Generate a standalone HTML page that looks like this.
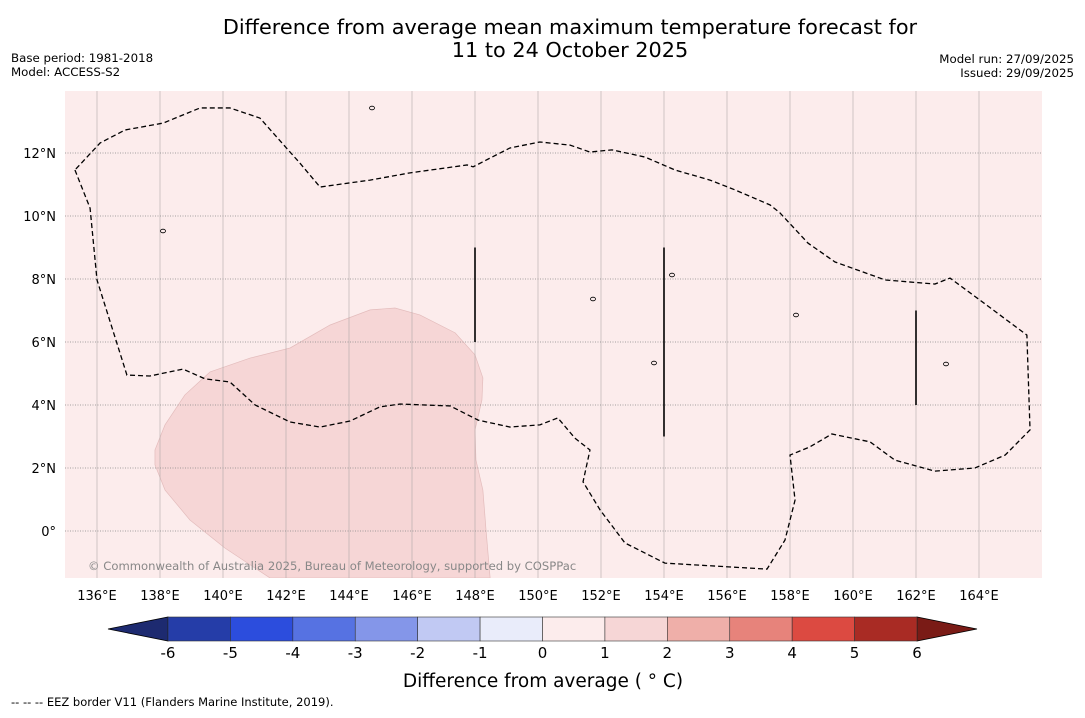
<!DOCTYPE html>
<html><head><meta charset="utf-8"><style>
body{margin:0;background:#fff;width:1085px;height:713px;overflow:hidden;font-family:"Liberation Sans","DejaVu Sans",sans-serif;}
svg text{font-family:"DejaVu Sans","Liberation Sans",sans-serif;}
</style></head><body>
<svg id="c" width="1085" height="713"></svg>
<script>
const levels=[-6,-5,-4,-3,-2,-1,0,1,2,3,4,5,6];
const binColors=["#253da8","#2c4ddd","#5672e2","#8496e9","#c1c9f3","#e9ecfa","#fcecec","#f6d6d6","#efafa9","#e7837b","#dc4a41","#a92b24"];
const extLow="#1d2a70", extHigh="#7a1b16";
const lonTicks=[136,138,140,142,144,146,148,150,152,154,156,158,160,162,164];
const latTicks=[0,2,4,6,8,10,12];
const eezLon=[135.30,135.78,136.0,136.95,137.68,138.73,139.43,140.22,141.02,142.13,143.08,144.03,144.98,145.62,147.21,148.10,149.11,150.06,150.63,151.17,151.65,151.43,151.97,152.76,154.03,157.27,157.84,158.16,158.0,158.63,159.33,160.54,161.33,162.60,163.87,164.83,165.62,165.52,164.03,163.08,162.60,161.02,159.43,158.57,157.68,157.37,156.25,155.46,154.35,153.40,152.35,151.65,151.02,150.06,149.11,148.48,147.94,147.75,145.94,144.67,143.08,142.44,141.17,140.22,139.27,138.10,136.89,136.10,135.30];
const eezLat=[11.46,10.25,7.97,4.95,4.92,5.14,4.83,4.73,4.0,3.46,3.30,3.49,3.94,4.03,3.97,3.52,3.30,3.37,3.59,2.95,2.57,1.56,0.67,-0.38,-1.02,-1.21,-0.29,0.98,2.41,2.67,3.08,2.83,2.25,1.90,2.0,2.41,3.21,6.22,7.33,8.03,7.84,7.97,8.54,9.14,10.10,10.35,10.83,11.14,11.46,11.87,12.10,12.03,12.25,12.35,12.16,11.84,11.56,11.62,11.37,11.14,10.92,11.68,13.11,13.43,13.43,12.95,12.73,12.32,11.46];
const blobLon=[137.84,138.16,138.79,139.59,140.86,142.13,143.40,144.67,145.46,146.25,147.37,148.0,148.25,148.22,148.0,148.03,148.25,148.35,148.48,141.49,140.06,138.95,138.16,137.84];
const blobLat=[2.57,3.37,4.32,5.05,5.49,5.81,6.54,7.02,7.08,6.86,6.29,5.59,4.86,4.16,3.21,2.25,1.30,0.03,-1.49,-1.49,-0.54,0.35,1.30,2.10];
const blobValue=1.5, bgValue=0.5;
const segLon=[148,154,162], segLatA=[9,9,7], segLatB=[6,3,4];

const NS="http://www.w3.org/2000/svg", svg=document.getElementById('c');
function el(t,a,p){const e=document.createElementNS(NS,t);for(const k in a)e.setAttribute(k,a[k]);(p||svg).appendChild(e);return e;}
const X=lon=>97+(lon-136)*31.5, Y=lat=>531-lat*31.5;
const colorFor=v=>{for(let i=0;i<levels.length-1;i++)if(v>=levels[i]&&v<levels[i+1])return binColors[i];return v<levels[0]?extLow:extHigh;};
const CX=v=>168+(v-levels[0])*(749/(levels.length-1));

let t;
t=el('text',{x:570,y:34,'text-anchor':'middle','font-size':20.8});t.textContent='Difference from average mean maximum temperature forecast for';

t=el('text',{x:570,y:57,'text-anchor':'middle','font-size':20.8});t.textContent='11 to 24 October 2025';

[['Base period: 1981-2018',11,62,'start','base-period'],['Model: ACCESS-S2',11,76,'start','model-name'],['Model run: 27/09/2025',1074,63,'end','model-run'],['Issued: 29/09/2025',1074,77,'end','issued-date']].forEach(d=>{
 t=el('text',{x:d[1],y:d[2],'text-anchor':d[3],'font-size':11.8});t.textContent=d[0];
 });

const map=el('g',{});
el('defs',{}).innerHTML='<clipPath id="cp"><rect x="65" y="91" width="977" height="487"/></clipPath>';
map.setAttribute('clip-path','url(#cp)');
let r=el('rect',{x:65,y:91,width:977,height:487,fill:colorFor(bgValue)},map);

let b=el('polygon',{points:blobLon.map((l,i)=>X(l)+','+Y(blobLat[i])).join(' '),fill:colorFor(blobValue),stroke:'#e3bcbc','stroke-width':0.7},map);

lonTicks.forEach(l=>{const g=el('line',{x1:X(l),x2:X(l),y1:91,y2:578,stroke:'#b0a8a8','stroke-width':0.6},map);
 });
latTicks.forEach(l=>{const g=el('line',{x1:65,x2:1042,y1:Y(l),y2:Y(l),stroke:'#888','stroke-width':0.7,'stroke-dasharray':'1,1.5'},map);
 });
let ez=el('polyline',{points:eezLon.map((l,i)=>X(l)+','+Y(eezLat[i])).join(' '),fill:'none',stroke:'#000','stroke-width':1.3,'stroke-dasharray':'5,3'},map);

segLon.forEach((l,i)=>{const s=el('line',{x1:X(l),x2:X(l),y1:Y(segLatA[i]),y2:Y(segLatB[i]),stroke:'#000','stroke-width':1.6},map);
 });
[[372,108],[163,231],[593,299],[796,315],[946,364],[672,275],[654,363]].forEach(p=>{const s=el('ellipse',{cx:p[0],cy:p[1],rx:2.5,ry:1.8,fill:'none',stroke:'#000','stroke-width':0.8},map);
 });
t=el('text',{x:88,y:570,'font-size':11.6,fill:'#888'},map);t.textContent='© Commonwealth of Australia 2025, Bureau of Meteorology, supported by COSPPac';


lonTicks.forEach(l=>{t=el('text',{x:X(l),y:600,'text-anchor':'middle','font-size':13});t.textContent=l+'°E';
 });
latTicks.forEach(l=>{t=el('text',{x:56,y:Y(l)+5,'text-anchor':'end','font-size':13});t.textContent=l===0?'0°':l+'°N';
 });

const cb=el('g',{});
let p=el('polygon',{points:`108,629 ${CX(levels[0])},617 ${CX(levels[0])},641`,fill:extLow,stroke:'#000','stroke-width':0.8},cb);

p=el('polygon',{points:`977,629 ${CX(levels[levels.length-1])},617 ${CX(levels[levels.length-1])},641`,fill:extHigh,stroke:'#000','stroke-width':0.8},cb);

for(let i=0;i<levels.length-1;i++){const s=el('rect',{x:CX(levels[i]),y:617,width:CX(levels[i+1])-CX(levels[i]),height:24,fill:binColors[i],stroke:'#333','stroke-width':0.6},cb);
 }
levels.forEach(v=>{t=el('text',{x:CX(v),y:658,'text-anchor':'middle','font-size':15},cb);t.textContent=v;
 });
t=el('text',{x:543,y:687,'text-anchor':'middle','font-size':18.5});t.textContent='Difference from average ( ° C)';

t=el('text',{x:11,y:706,'font-size':11.5});t.textContent='--  --  -- EEZ border V11 (Flanders Marine Institute, 2019).';

</script>
</body></html>
